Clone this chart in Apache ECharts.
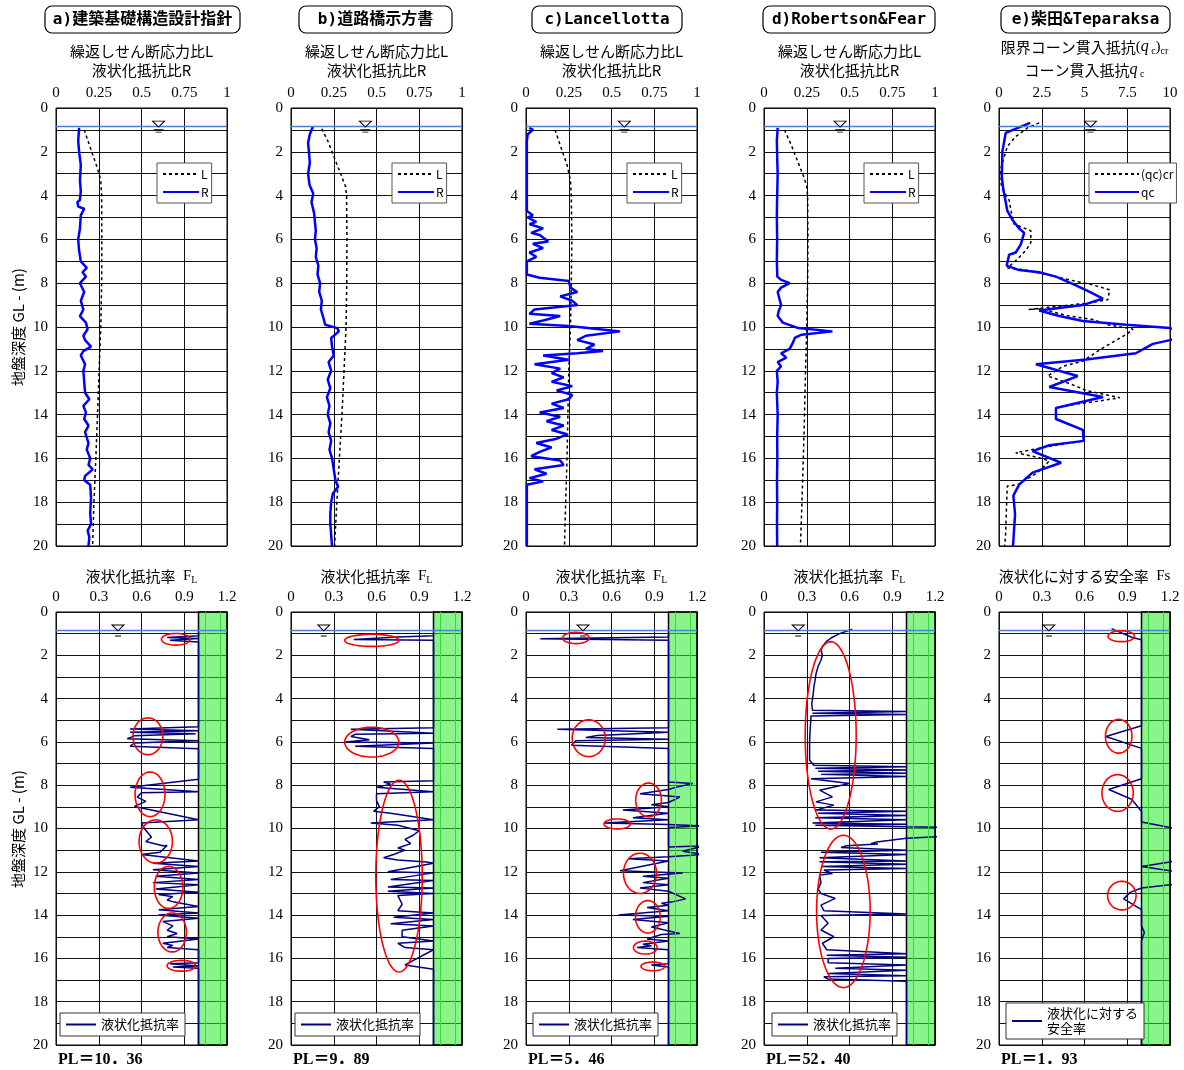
<!DOCTYPE html>
<html><head><meta charset="utf-8">
<script src="https://cdn.jsdelivr.net/npm/echarts@6/dist/echarts.min.js"></script>
<style>html,body{margin:0;padding:0;background:#fff}#c{width:1184px;height:1070px}</style>
</head><body><div id="c"></div>
<script>
// ---------------- DATA ----------------
const panelTitles = ['a)建築基礎構造設計指針','b)道路橋示方書','c)Lancellotta','d)Robertson&Fear','e)柴田&Teparaksa'];
const plLabels = ['PL＝10．36','PL＝9．89','PL＝5．46','PL＝52．40','PL＝1．93'];
const waterDepth = 0.85;
const wtTopX = [0.6, 0.435, 0.575, 0.445, 5.35];
const wtBotX = [0.435, 0.23, 0.40, 0.24, 0.35];
const safeRange = [1.0, 1.2];

// top panels: [value, depth]
const L_a = [[0.165,1.0],[0.2,1.8],[0.24,2.7],[0.262,3.3],[0.267,4],[0.268,6],[0.267,8],[0.262,10],[0.252,12],[0.243,14],[0.233,16],[0.222,18],[0.214,20]];
const R_a = [[0.135,0.9],[0.13,1.5],[0.135,2.0],[0.145,2.6],[0.14,3.3],[0.145,3.8],[0.14,4.2],[0.125,4.3],[0.13,4.5],[0.165,4.6],[0.145,4.9],[0.14,5.5],[0.13,6.0],[0.135,6.5],[0.145,7.0],[0.18,7.3],[0.155,7.5],[0.175,7.7],[0.14,8.0],[0.165,8.4],[0.145,8.8],[0.16,9.2],[0.14,9.5],[0.175,9.8],[0.185,10.1],[0.16,10.4],[0.17,10.6],[0.205,10.9],[0.16,11.1],[0.145,11.3],[0.17,11.7],[0.16,12.0],[0.165,12.5],[0.17,13.0],[0.195,13.3],[0.16,13.6],[0.175,13.9],[0.165,14.2],[0.19,14.5],[0.17,14.8],[0.19,15.3],[0.18,15.6],[0.2,16.0],[0.19,16.3],[0.215,16.5],[0.17,16.8],[0.165,17.0],[0.2,17.2],[0.205,17.8],[0.2,18.5],[0.205,19.0],[0.185,19.3],[0.195,19.6],[0.19,20]];
const L_b = [[0.18,0.95],[0.215,1.5],[0.25,2.2],[0.29,3.0],[0.32,3.6],[0.325,4],[0.327,6],[0.326,8],[0.322,10],[0.31,12],[0.298,14],[0.283,16],[0.268,18],[0.255,20]];
const R_b = [[0.128,0.85],[0.11,1.2],[0.1,1.6],[0.105,2.0],[0.11,2.5],[0.1,3.0],[0.108,3.5],[0.13,3.9],[0.12,4.3],[0.135,4.8],[0.14,5.2],[0.145,5.6],[0.14,6.0],[0.15,6.4],[0.145,6.8],[0.16,7.2],[0.155,7.6],[0.17,8.0],[0.165,8.4],[0.18,8.8],[0.175,9.2],[0.19,9.6],[0.2,9.9],[0.27,10.05],[0.28,10.2],[0.235,10.5],[0.24,10.9],[0.25,11.3],[0.22,11.6],[0.235,12.0],[0.215,12.4],[0.23,12.8],[0.21,13.2],[0.225,13.6],[0.215,14.0],[0.23,14.4],[0.22,14.8],[0.235,15.2],[0.225,15.6],[0.24,16.0],[0.25,16.5],[0.26,17.0],[0.275,17.3],[0.245,17.6],[0.235,18.0],[0.23,18.5],[0.23,19.0],[0.235,19.5],[0.24,20]];
const L_c = [[0.17,1.0],[0.2,1.7],[0.24,2.6],[0.26,3.3],[0.265,4],[0.268,6],[0.265,8],[0.26,10],[0.25,12],[0.245,14],[0.24,16],[0.232,18],[0.225,20]];
const R_c = [[0.02,0.9],[0.04,1.0],[0.01,1.2],[0.005,1.5],[0.005,4.7],[0.04,4.9],[0.01,5.0],[0.06,5.2],[0.02,5.3],[0.1,5.5],[0.03,5.7],[0.08,5.8],[0.13,6.1],[0.04,6.2],[0.1,6.4],[0.02,6.6],[0.06,6.8],[0.005,7.0],[0.005,7.6],[0.08,7.75],[0.25,7.9],[0.26,8.2],[0.3,8.4],[0.2,8.6],[0.27,8.8],[0.3,9.0],[0.05,9.2],[0.02,9.4],[0.2,9.5],[0.1,9.7],[0.02,9.85],[0.25,9.95],[0.43,10.1],[0.55,10.2],[0.35,10.4],[0.3,10.6],[0.4,10.8],[0.35,11.0],[0.45,11.1],[0.3,11.2],[0.1,11.3],[0.25,11.5],[0.05,11.7],[0.2,11.9],[0.15,12.1],[0.22,12.3],[0.15,12.5],[0.27,12.7],[0.18,12.9],[0.27,13.1],[0.25,13.3],[0.15,13.5],[0.22,13.7],[0.08,13.9],[0.2,14.1],[0.12,14.3],[0.22,14.5],[0.15,14.7],[0.24,14.9],[0.18,15.1],[0.06,15.3],[0.15,15.5],[0.08,15.7],[0.03,15.9],[0.2,16.1],[0.22,16.3],[0.05,16.5],[0.12,16.7],[0.02,16.9],[0.1,17.05],[0.005,17.2],[0.005,20]];
const L_d = [[0.12,1.0],[0.16,1.7],[0.2,2.5],[0.235,3.2],[0.25,3.6],[0.255,4],[0.257,6],[0.255,8],[0.25,10],[0.243,12],[0.237,14],[0.23,16],[0.222,18],[0.213,20]];
const R_d = [[0.08,0.9],[0.075,1.5],[0.078,2.5],[0.08,3.0],[0.077,4.0],[0.075,5.0],[0.077,6.0],[0.075,7.0],[0.078,7.7],[0.1,7.85],[0.15,8.0],[0.1,8.2],[0.08,8.4],[0.09,8.7],[0.1,9.0],[0.085,9.3],[0.08,9.5],[0.11,9.8],[0.2,10.05],[0.4,10.2],[0.22,10.35],[0.18,10.5],[0.17,10.7],[0.15,11.0],[0.1,11.2],[0.13,11.4],[0.08,11.6],[0.1,11.8],[0.075,12.0],[0.08,12.5],[0.075,13.0],[0.08,14.0],[0.077,15.0],[0.078,16.0],[0.076,17.0],[0.077,18.0],[0.076,19.0],[0.077,20]];
const qccr_e = [[2.35,0.68],[1.67,0.91],[0.98,1.3],[0.49,1.75],[0.2,2.5],[0.1,2.8],[0.04,3.2],[0.2,3.7],[0.59,4.2],[0.69,4.64],[0.88,5.3],[1.86,5.6],[1.86,6.15],[1.57,6.5],[1.08,6.9],[0.49,7.3],[1.57,7.4],[3.33,7.7],[4.41,7.9],[5.4,8.06],[6.47,8.3],[6.37,8.75],[5.3,8.9],[1.73,9.2],[2.45,9.17],[4.1,9.5],[5.5,9.66],[6.37,9.9],[7.84,10.1],[7.45,10.34],[6.08,10.95],[4.9,11.56],[3.73,11.8],[2.84,12.24],[3.73,12.47],[4.5,12.7],[5.1,12.9],[7.06,13.23],[5.88,13.38],[4.7,13.5],[3.33,13.69],[3.33,14.2],[4.9,14.7],[4.96,15.2],[3.04,15.44],[0.98,15.74],[2.35,15.97],[2.94,16.12],[2.25,16.65],[1.08,17.2],[0.49,17.26],[0.45,17.9],[0.39,19.4],[0.33,20]];
const qc_e = [[1.82,0.68],[0.39,1.14],[0.2,1.98],[0.16,3.1],[0.25,3.7],[0.49,4.7],[0.78,5.1],[1.18,5.5],[1.47,5.7],[1.27,6.24],[0.98,6.6],[0.59,6.7],[0.45,7.2],[1.18,7.4],[2.35,7.5],[3.33,7.7],[4.5,8.1],[5.3,8.4],[6.08,8.7],[4.9,9.0],[2.35,9.25],[3.53,9.5],[4.9,9.73],[7.45,9.9],[10.0,10.05],[11.0,10.3],[10.0,10.6],[9.0,10.77],[8.0,11.2],[5.1,11.48],[2.16,11.7],[4.6,12.24],[2.94,12.74],[6.08,13.2],[3.33,13.7],[3.33,14.2],[4.9,14.7],[4.96,15.2],[2.94,15.4],[1.96,15.67],[3.63,16.2],[1.96,16.65],[1.18,17.2],[0.84,17.7],[0.94,18.55],[0.82,20]];

// bottom panels: [FL, depth]
const FL_a = [[1.0,0.95],[1.0,1.1],[0.78,1.18],[1.0,1.22],[0.8,1.3],[1.0,1.38],[1.0,5.3],[0.52,5.4],[1.0,5.48],[0.52,5.55],[0.98,5.62],[0.55,5.72],[0.5,5.85],[1.0,5.95],[0.55,6.05],[0.52,6.2],[1.0,6.32],[1.0,7.72],[0.52,8.1],[1.0,8.3],[0.6,8.35],[0.57,8.55],[0.63,8.75],[0.55,8.98],[1.0,9.6],[0.6,9.75],[0.62,10.0],[0.67,10.4],[0.63,10.6],[0.75,10.8],[0.78,10.78],[0.73,11.1],[0.6,11.2],[1.0,11.5],[0.68,11.6],[1.0,11.75],[0.68,11.9],[1.0,12.05],[0.7,12.2],[1.0,12.35],[0.68,12.5],[1.0,12.6],[0.7,12.8],[1.0,12.95],[0.72,13.05],[0.82,13.15],[0.78,13.3],[0.83,13.4],[1.0,13.6],[0.72,13.75],[1.0,13.9],[0.72,14.0],[1.0,14.15],[0.75,14.3],[0.82,14.5],[0.78,14.7],[0.85,14.85],[0.78,15.0],[1.0,15.1],[0.75,15.3],[0.82,15.4],[0.78,15.5],[1.0,15.6],[1.0,16.2],[0.8,16.25],[1.0,16.35],[0.82,16.4],[1.0,16.45],[1.0,20]];
const FL_b = [[1.0,1.0],[1.0,1.1],[0.75,1.15],[0.44,1.27],[1.0,1.3],[1.0,5.35],[0.42,5.42],[1.0,5.6],[0.45,5.65],[0.42,5.75],[0.55,5.9],[0.38,6.0],[1.0,6.05],[0.45,6.2],[1.0,6.3],[1.0,7.8],[0.65,7.85],[0.7,7.95],[0.6,8.1],[1.0,8.3],[0.6,8.4],[0.6,8.7],[0.62,9.0],[0.58,9.2],[0.7,9.3],[1.0,9.6],[0.56,9.75],[0.75,9.85],[0.9,10.1],[0.86,10.3],[0.8,10.5],[0.84,10.7],[0.75,10.9],[0.8,11.0],[0.72,11.2],[0.65,11.35],[0.75,11.45],[0.95,11.55],[1.0,11.6],[0.68,12.0],[1.0,12.05],[0.7,12.35],[1.0,12.4],[0.68,12.7],[1.0,12.75],[0.68,12.9],[1.0,13.0],[0.75,13.1],[0.78,13.5],[0.75,13.8],[1.0,13.9],[0.72,14.1],[1.0,14.2],[0.7,14.4],[1.0,14.5],[0.78,14.7],[0.78,15.0],[1.0,15.2],[0.75,15.3],[0.8,15.5],[1.0,15.6],[0.8,16.3],[1.0,16.5],[1.0,20]];
const FL_c = [[1.0,1.0],[1.0,1.15],[0.1,1.23],[1.0,1.3],[1.0,5.35],[0.22,5.42],[1.0,5.55],[0.5,5.7],[0.42,5.8],[1.0,5.88],[0.35,5.95],[0.32,6.15],[1.0,6.3],[1.0,7.85],[1.17,7.92],[1.05,8.1],[1.0,8.2],[0.8,8.4],[1.0,8.5],[1.08,8.55],[1.0,8.8],[0.88,8.9],[1.0,9.0],[0.68,9.15],[1.0,9.3],[0.75,9.5],[1.0,9.6],[0.55,9.75],[1.0,9.82],[1.25,9.88],[1.0,9.95],[1.0,10.85],[1.25,10.8],[1.1,11.05],[1.25,11.2],[1.0,11.3],[0.72,11.4],[1.0,11.5],[0.66,11.95],[1.1,12.05],[0.82,12.2],[1.0,12.3],[0.82,12.5],[1.0,12.6],[0.8,12.75],[1.0,12.9],[1.12,13.25],[1.02,13.4],[0.95,13.45],[1.0,13.55],[0.85,13.65],[1.0,13.8],[0.65,14.0],[1.0,14.05],[0.75,14.2],[1.0,14.35],[0.88,14.55],[1.08,14.85],[0.95,14.9],[0.85,15.1],[1.0,15.2],[0.82,15.35],[0.88,15.42],[0.78,15.5],[1.0,15.6],[1.0,16.25],[0.88,16.3],[1.0,16.4],[1.0,20]];
const FL_d = [[0.62,0.8],[0.53,1.0],[0.47,1.2],[0.435,1.38],[0.41,1.6],[0.4,1.77],[0.41,2.0],[0.4,2.23],[0.38,2.5],[0.365,2.85],[0.36,3.1],[0.35,3.46],[0.345,3.8],[0.335,4.23],[0.34,4.54],[1.0,4.6],[0.34,4.68],[1.0,4.74],[0.33,4.8],[0.325,5.3],[0.32,6.0],[0.32,6.85],[0.35,7.08],[1.0,7.15],[0.36,7.22],[1.0,7.3],[0.38,7.35],[1.0,7.45],[0.4,7.5],[1.0,7.6],[0.33,7.7],[0.6,7.92],[0.39,8.23],[0.48,8.54],[0.365,8.77],[0.49,8.92],[0.365,9.15],[1.0,9.2],[0.38,9.3],[1.0,9.4],[0.36,9.5],[1.0,9.6],[0.34,9.75],[1.0,9.8],[0.36,9.85],[1.0,9.92],[1.3,9.95],[1.3,10.35],[1.0,10.45],[0.79,10.62],[0.75,10.7],[0.8,10.72],[0.58,10.8],[0.54,10.88],[1.0,11.0],[0.4,11.1],[1.0,11.2],[0.39,11.35],[1.0,11.5],[0.39,11.54],[1.0,11.65],[0.4,11.75],[1.0,11.85],[0.42,11.92],[0.48,12.08],[0.39,12.15],[0.4,12.5],[0.38,12.8],[0.4,13.0],[0.5,13.23],[0.4,13.54],[0.42,13.8],[1.0,13.95],[0.4,14.02],[0.41,14.08],[0.45,14.38],[0.4,14.69],[0.49,15.0],[0.41,15.3],[0.44,15.6],[1.0,15.78],[0.44,15.85],[1.0,15.95],[0.45,16.0],[0.45,16.2],[1.0,16.3],[0.5,16.45],[1.0,16.55],[0.45,16.7],[1.0,16.8],[0.42,16.85],[0.45,16.95],[1.0,17.05],[1.0,20]];
const FS_e = [[0.79,0.77],[0.94,1.19],[1.0,1.28],[1.0,5.25],[0.75,5.75],[1.0,6.3],[1.0,7.7],[0.77,8.2],[0.93,8.65],[1.0,9.2],[1.0,9.7],[1.2,9.95],[1.6,10.7],[1.2,11.55],[1.0,11.75],[1.2,11.95],[1.5,12.3],[1.2,12.6],[1.0,12.75],[0.92,12.95],[0.875,13.25],[1.0,13.75],[1.0,14.5],[1.02,14.8],[1.0,15.2],[1.0,20]];

// red ellipses (annotations): [centerFL, centerDepth, radiusFL, radiusDepth]
const ell_a = [[0.84,1.26,0.1,0.27],[0.645,5.74,0.105,0.85],[0.66,8.42,0.105,1.03],[0.70,10.6,0.117,1.0],[0.79,12.72,0.1,0.97],[0.815,14.8,0.1,0.9],[0.88,16.34,0.1,0.25]];
const ell_b = [[0.567,1.31,0.19,0.28],[0.567,6.01,0.19,0.69],[0.758,12.2,0.163,4.43]];
const ell_c = [[0.35,1.2,0.093,0.26],[0.44,5.83,0.116,0.85],[0.86,8.68,0.09,0.78],[0.64,9.79,0.093,0.23],[0.80,12.07,0.116,0.93],[0.855,14.08,0.087,0.75],[0.837,15.5,0.083,0.3],[0.89,16.37,0.083,0.2]];
const ell_d = [[0.468,5.7,0.179,4.33],[0.557,13.83,0.188,3.52]];
const ell_e = [[0.858,1.12,0.093,0.25],[0.84,5.74,0.093,0.78],[0.832,8.36,0.11,0.85],[0.862,13.1,0.1,0.66]];

// ---------------- BUILD ----------------
const Ls = [L_a, L_b, L_c, L_d, qccr_e];
const Rs = [R_a, R_b, R_c, R_d, qc_e];
const FLs = [FL_a, FL_b, FL_c, FL_d, FS_e];
const ELLs = [ell_a, ell_b, ell_c, ell_d, ell_e];
const topNames = [['L','R'],['L','R'],['L','R'],['L','R'],['(qc)cr','qc']];
const botNames = ['液状化抵抗率','液状化抵抗率','液状化抵抗率','液状化抵抗率','液状化に対する\n安全率'];

const colLeft = [56, 291, 526, 764, 999], colW = 171;
const SERIF = '"Liberation Serif","Times New Roman",serif';
const SANS = '"Noto Sans CJK JP","Noto Sans",sans-serif';
const wtSymbol = 'path://M0,0L12,0L6,6ZM1,8.5L11,8.5M3,11L9,11';
const hiddenIcon = {color: 'rgba(0,0,0,0)', borderColor: 'rgba(0,0,0,0)', borderWidth: 0};

const grids = [], xAxes = [], yAxes = [], series = [], legends = [];

function addAxes(idx, col, isTop) {
  grids.push({left: colLeft[col], top: isTop ? 108 : 612, width: colW, height: isTop ? 438 : 433,
    show: true, borderColor: '#000', borderWidth: 1, backgroundColor: 'transparent'});
  const xmax = isTop ? (col === 4 ? 10 : 1) : 1.2;
  const xint = isTop ? (col === 4 ? 2.5 : 0.25) : 0.3;
  xAxes.push({gridIndex: idx, type: 'value', position: 'top', min: 0, max: xmax, interval: xint,
    axisLine: {show: false}, axisTick: {show: false},
    axisLabel: {color: '#000', fontFamily: SERIF, fontSize: 15, margin: 7},
    splitLine: {show: true, lineStyle: {color: '#111', width: 1}}});
  yAxes.push({gridIndex: idx, type: 'value', inverse: true, min: 0, max: 20, interval: 1,
    axisLine: {show: false}, axisTick: {show: false},
    axisLabel: {color: '#000', fontFamily: SERIF, fontSize: 15, margin: 8,
      formatter: v => (v % 2 === 0 ? String(v) : '')},
    splitLine: {show: true, lineStyle: {color: '#111', width: 1}}});
}

function waterSeries(idx, x) {
  return {type: 'scatter', xAxisIndex: idx, yAxisIndex: idx, data: [[x, waterDepth]],
    symbol: wtSymbol, symbolSize: [12, 11], silent: true, z: 8,
    itemStyle: {color: '#fff', borderColor: '#000', borderWidth: 1, opacity: 1},
    markLine: {silent: true, symbol: 'none', label: {show: false}, animation: false,
      lineStyle: {color: '#4a7fd6', width: 1.3, type: 'solid'}, data: [{yAxis: waterDepth}]}};
}

for (let col = 0; col < 5; col++) {
  const ti = col;
  addAxes(ti, col, true);
  series.push({name: topNames[col][0], type: 'line', xAxisIndex: ti, yAxisIndex: ti, data: Ls[col],
    symbol: 'none', silent: true, z: 3, itemStyle: {color: '#000'},
    lineStyle: {color: '#000', width: 1.5, type: [3, 3]}});
  series.push({name: topNames[col][1], type: 'line', xAxisIndex: ti, yAxisIndex: ti, data: Rs[col],
    symbol: 'none', silent: true, z: 4, itemStyle: {color: '#0000ff'},
    lineStyle: {color: '#0000ff', width: 2.5}});
  series.push(waterSeries(ti, wtTopX[col]));
  legends.push({orient: 'vertical', left: [157, 392, 627, 864, 1089][col], top: 163,
    data: topNames[col], selectedMode: false, itemWidth: col === 4 ? 44 : 36, itemHeight: 14, itemGap: 6,
    padding: [5, 3, 5, 5], backgroundColor: '#fff', borderColor: '#555', borderWidth: 1,
    itemStyle: hiddenIcon,
    textStyle: {fontFamily: SANS, fontSize: 12, color: '#000', padding: [0, 0, 0, -3]}});
}
for (let col = 0; col < 5; col++) {
  const bi = 5 + col;
  addAxes(bi, col, false);
  series.push({name: botNames[col], type: 'line', xAxisIndex: bi, yAxisIndex: bi, data: FLs[col],
    symbol: 'none', silent: true, z: 3, itemStyle: {color: '#000080'},
    lineStyle: {color: '#000080', width: 1.5}});
  series.push({type: 'line', xAxisIndex: bi, yAxisIndex: bi, data: [[safeRange[0], 0]], symbol: 'none',
    lineStyle: {width: 0}, silent: true, z: 5,
    markArea: {silent: true, animation: false,
      itemStyle: {color: 'rgba(40,235,40,0.55)', borderColor: '#000', borderWidth: 1.5},
      data: [[{xAxis: safeRange[0], yAxis: 0}, {xAxis: safeRange[1], yAxis: 20}]]},
    markLine: {silent: true, symbol: 'none', label: {show: false}, animation: false,
      lineStyle: {color: '#3ed43e', width: 1, type: 'solid'},
      data: [{xAxis: 1.05}, {xAxis: 1.15}]}});
  series.push(waterSeries(bi, wtBotX[col]));
  legends.push({orient: 'vertical', left: [60, 295, 533, 772, 1006][col], top: col === 4 ? 1003 : 1013,
    data: [botNames[col]], selectedMode: false, itemWidth: 30, itemHeight: 12, itemGap: 4,
    padding: col === 4 ? [3, 6, 3, 5] : [4, 6, 4, 5], backgroundColor: '#fff', borderColor: '#333', borderWidth: 1,
    itemStyle: hiddenIcon,
    textStyle: {fontFamily: SANS, fontSize: 13, color: '#000', lineHeight: 15}});
}

// ---------------- TEXT GRAPHICS ----------------
const G = [];
const titleBoxes = [[45,195],[299,153],[532,150],[763,172],[1001,169]];
panelTitles.forEach((t, i) => {
  const [bx, bw] = titleBoxes[i];
  G.push({type: 'rect', shape: {x: bx, y: 6, width: bw, height: 27, r: 7},
    style: {fill: '#fff', stroke: '#000', lineWidth: 1.2}, z: 10});
  G.push({type: 'text', x: bx + bw / 2, y: 19.5, z: 11,
    style: {text: t, fill: '#000', font: 'bold 16px "DejaVu Sans Mono","Noto Sans CJK JP",monospace',
      align: 'center', verticalAlign: 'middle', textAlign: 'center', textVerticalAlign: 'middle'}});
});
function txt(x, y, text, rich) {
  G.push({type: 'text', x, y, z: 11,
    style: {text, rich, fill: '#000', font: '15px ' + SANS,
      align: 'center', verticalAlign: 'middle', textAlign: 'center', textVerticalAlign: 'middle'}});
}
const richBase = {
  a: {fontFamily: SANS, fontSize: 15, lineHeight: 18, fill: '#000'},
  f: {fontFamily: SERIF, fontSize: 15, lineHeight: 18, fill: '#000'},
  q: {fontFamily: SERIF, fontSize: 16, fontStyle: 'italic', lineHeight: 18, fill: '#000'},
  s: {fontFamily: SERIF, fontSize: 10, lineHeight: 10, verticalAlign: 'bottom', fill: '#000'}
};
for (let col = 0; col < 5; col++) {
  const cx = colLeft[col] + colW / 2;
  if (col < 4) {
    txt(cx, 51, '{a|繰返しせん断応力比L}', richBase);
    txt(cx, 70, '{a|液状化抵抗比R}', richBase);
    txt(cx, 576, '{a|液状化抵抗率}{f|  F}{s|L}', richBase);
  } else {
    txt(cx, 47, '{a|限界コーン貫入抵抗}{f|(}{q|q}{s| c}{f|)}{s|cr}', richBase);
    txt(cx, 70, '{a|コーン貫入抵抗}{q|q}{s| c}', richBase);
    txt(cx, 576, '{a|液状化に対する安全率}{f|  Fs}', richBase);
  }
  G.push({type: 'text', x: colLeft[col] + 2, y: 1060, z: 11,
    style: {text: plLabels[col], fill: '#000', font: 'bold 16px ' + SERIF + ',"Noto Sans CJK JP"',
      align: 'left', verticalAlign: 'middle', textAlign: 'left', textVerticalAlign: 'middle'}});
}
[327, 829].forEach(cy => {
  G.push({type: 'text', x: 18, y: cy, rotation: Math.PI / 2, z: 11,
    style: {text: '地盤深度 GL - (m)', fill: '#000', font: '15px ' + SANS,
      align: 'center', verticalAlign: 'middle', textAlign: 'center', textVerticalAlign: 'middle'}});
});

const chart = echarts.init(document.getElementById('c'));
chart.setOption({animation: false, backgroundColor: '#fff', grid: grids, xAxis: xAxes, yAxis: yAxes,
  legend: legends, series: series, graphic: {elements: G}});

// ellipses converted through each grid's scales
const E = [];
for (let col = 0; col < 5; col++) {
  ELLs[col].forEach(([cx, cy, rx, ry]) => {
    const pts = [];
    for (let k = 0; k < 72; k++) {
      const t = k / 72 * Math.PI * 2;
      pts.push(chart.convertToPixel({gridIndex: 5 + col}, [cx + rx * Math.cos(t), cy + ry * Math.sin(t)]));
    }
    E.push({type: 'polygon', shape: {points: pts}, z: 20, silent: true,
      style: {fill: 'none', stroke: '#ff0000', lineWidth: 1.6}});
  });
}
chart.setOption({graphic: {elements: G.concat(E)}}, {replaceMerge: ['graphic']});
</script></body></html>
